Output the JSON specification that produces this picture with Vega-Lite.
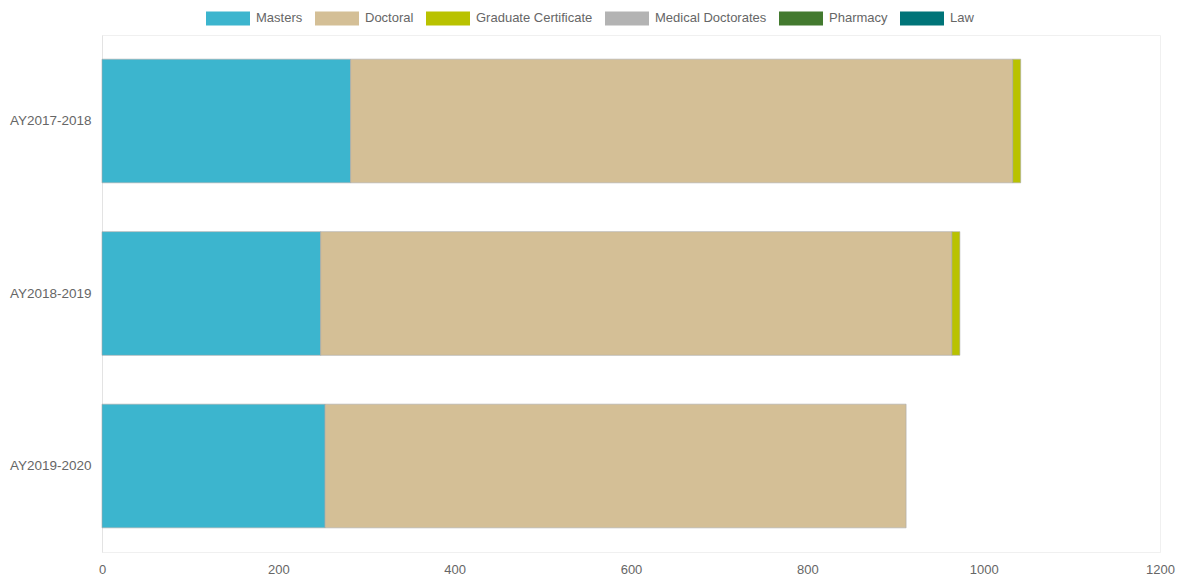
{
  "$schema": "https://vega.github.io/schema/vega-lite/v6.json",
  "width": 1058,
  "height": 517,
  "autosize": {"type": "none"},
  "padding": {"left": 102, "top": 35, "right": 20, "bottom": 27},
  "background": "white",
  "config": {
    "view": {"stroke": "#f0f0f0", "strokeWidth": 1},
    "font": "Liberation Sans",
    "axis": {"labelFont": "Liberation Sans", "labelFontSize": 13, "labelColor": "#666666", "ticks": false, "title": null}
  },
  "data": {
    "values": [
      {"year": "AY2017-2018", "type": "Masters", "k": 1, "count": 282},
      {"year": "AY2017-2018", "type": "Doctoral", "k": 2, "count": 751},
      {"year": "AY2017-2018", "type": "Graduate Certificate", "k": 3, "count": 9},
      {"year": "AY2018-2019", "type": "Masters", "k": 1, "count": 248},
      {"year": "AY2018-2019", "type": "Doctoral", "k": 2, "count": 716},
      {"year": "AY2018-2019", "type": "Graduate Certificate", "k": 3, "count": 9},
      {"year": "AY2019-2020", "type": "Masters", "k": 1, "count": 253},
      {"year": "AY2019-2020", "type": "Doctoral", "k": 2, "count": 659}
    ]
  },
  "mark": {"type": "bar", "stroke": "#a8a8a8", "strokeWidth": 1, "strokeOpacity": 0.6},
  "encoding": {
    "y": {
      "field": "year",
      "type": "nominal",
      "title": null,
      "scale": {"paddingInner": 0.283, "paddingOuter": 0.14},
      "axis": {"grid": false, "domain": true, "domainColor": "#e3e3e3", "labelPadding": 11, "labelFontSize": 13.5}
    },
    "x": {
      "field": "count",
      "type": "quantitative",
      "stack": "zero",
      "scale": {"domain": [0, 1200], "nice": false},
      "axis": {"values": [0, 200, 400, 600, 800, 1000, 1200], "format": "d", "grid": false, "domainColor": "#f0f0f0", "labelPadding": 11, "labelFlush": false}
    },
    "color": {
      "field": "type",
      "type": "nominal",
      "scale": {
        "domain": ["Masters", "Doctoral", "Graduate Certificate", "Medical Doctorates", "Pharmacy", "Law"],
        "range": ["#3cb5ce", "#d4bf96", "#b9c200", "#b3b3b3", "#437a2f", "#007478"]
      },
      "legend": {
        "title": null,
        "orient": "none",
        "legendX": 104,
        "legendY": -39,
        "direction": "horizontal",
        "symbolType": "M-1,-0.32H1V0.32H-1Z",
        "symbolSize": 1936,
        "symbolStrokeWidth": 0,
        "symbolOpacity": 1,
        "labelFont": "Liberation Sans",
        "labelFontSize": 13,
        "labelColor": "#666666",
        "labelOffset": 6,
        "columnPadding": 12
      }
    },
    "order": {"field": "k", "type": "quantitative"}
  }
}
